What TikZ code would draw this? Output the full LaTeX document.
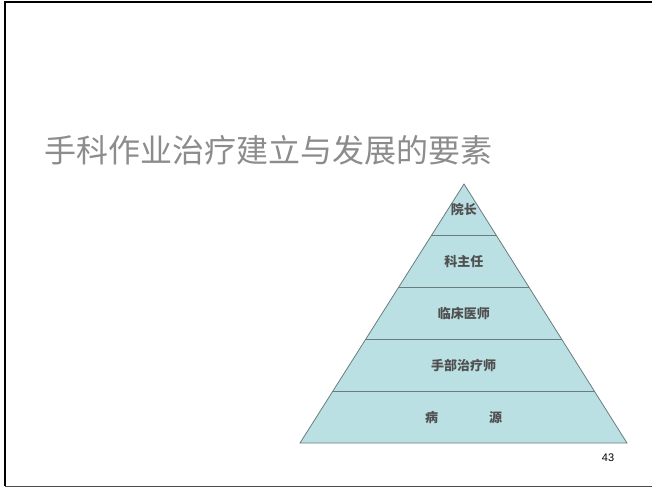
\documentclass[tikz,border=0pt]{standalone}
\usepackage{fontspec}
\setsansfont{Liberation Sans}
\newfontfamily\cjk{Noto Sans CJK SC}
\usetikzlibrary{calc}
\definecolor{pyrfill}{RGB}{187,224,227}
\definecolor{pyrline}{RGB}{105,125,125}
\definecolor{titlegray}{RGB}{140,140,140}
\definecolor{labelgray}{RGB}{80,80,80}
\tikzstyle{band} = [font=\cjk\bfseries\fontsize{13}{15}\selectfont, text=labelgray]
\tikzstyle{divider} = [draw=pyrline, line width=0.8pt]

\begin{document}
\begin{tikzpicture}[x=1pt, y=-1pt]
	\useasboundingbox (0,0) rectangle (652,488);
	% slide frame
	\draw[line width=2pt] (652,2) -- (5,2) -- (5,486);
	\draw[line width=1pt, black!70] (5,486) -- (652,486);
	% title
	\node[font=\cjk\fontsize{32}{36}\selectfont, text=titlegray] (title) at (268,150) {手科作业治疗建立与发展的要素};
	% pyramid
	\coordinate (apex) at (464,184);
	\coordinate (bl) at (300,443);
	\coordinate (br) at (627,443);
	\draw[fill=pyrfill, draw=pyrline, line width=0.8pt] (apex) -- (br) -- (bl) -- cycle;
	\foreach \t/\n in {0.2/a, 0.4/b, 0.6/c, 0.8/d} {
		\coordinate (l\n) at ($(apex)!\t!(bl)$);
		\coordinate (r\n) at ($(apex)!\t!(br)$);
		\draw[divider] (l\n) -- (r\n);
	}
	% labels
	\node[band] (dean) at ($(apex)!0.1!(bl)!0.5!($(apex)!0.1!(br)$)$) {院长};
	\node[band] (chief) at ($(apex)!0.3!(bl)!0.5!($(apex)!0.3!(br)$)$) {科主任};
	\node[band] (doctor) at ($(apex)!0.5!(bl)!0.5!($(apex)!0.5!(br)$)$) {临床医师};
	\node[band] (therapist) at ($(apex)!0.7!(bl)!0.5!($(apex)!0.7!(br)$)$) {手部治疗师};
	\node[band] (source) at ($(apex)!0.9!(bl)!0.5!($(apex)!0.9!(br)$)$) {病\hspace{51pt}源};
	% page number
	\node[font=\sffamily\fontsize{11}{13}\selectfont] (page) at (608,458) {43};
\end{tikzpicture}
\end{document}
